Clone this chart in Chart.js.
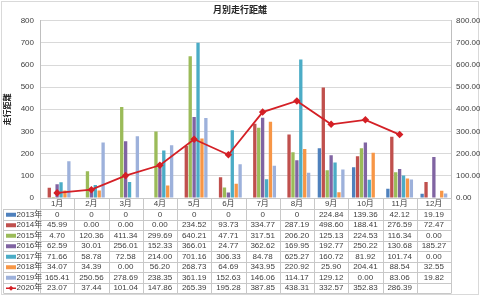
<!DOCTYPE html>
<html>
<head>
<meta charset="utf-8">
<script src="https://cdn.jsdelivr.net/npm/chart.js@4.4.1/dist/chart.umd.min.js"></script>
<style>
  html, body { margin: 0; padding: 0; background: #fff; }
  #wrap { width: 480px; height: 296px; position: relative; }
  .axlab { position: absolute; font: 8px 'Liberation Sans', sans-serif; color: #404040; line-height: 10px; height: 10px; white-space: nowrap; }
</style>
</head>
<body>
<div id="wrap"><canvas id="distChart" width="480" height="296"></canvas></div>
<script>
const months = ['1月','2月','3月','4月','5月','6月','7月','8月','9月','10月','11月','12月'];
const yearLabels = ['2013年','2014年','2015年','2016年','2017年','2018年','2019年'];
const lineLabel = '2020年';

const y2013 = [0,0,0,0,0,0,0,0,224.84,139.36,42.12,19.19];
const y2014 = [45.99,0.00,0.00,0.00,234.52,93.73,334.77,287.19,498.60,188.41,276.59,72.47];
const y2015 = [4.70,120.36,411.34,299.69,640.21,47.71,317.51,206.20,125.13,224.53,116.34,0.00];
const y2016 = [62.59,30.01,256.01,152.33,366.01,24.77,362.62,169.95,192.77,250.22,130.68,185.27];
const y2017 = [71.66,58.78,72.58,214.00,701.16,306.33,84.78,625.27,160.72,81.92,101.74,0.00];
const y2018 = [34.07,34.39,0.00,56.20,268.73,64.69,343.95,220.92,25.90,204.41,88.54,32.55];
const y2019 = [165.41,250.56,278.69,238.35,361.19,152.63,146.06,114.17,129.12,0.00,83.06,19.82];
const y2020 = [23.07,37.44,101.04,147.86,265.39,195.28,387.85,438.31,332.57,352.83,286.39,null];

const axisMin = 0, axisMax = 800, axisStep = 100;

const barSeries = [y2013,y2014,y2015,y2016,y2017,y2018,y2019];
const barColors = ['#4F81BD','#C0504D','#9BBB59','#8064A2','#4BACC6','#F79646','#9DB1DB'];
const lineColor = '#D42026';

const textColor = '#404040';
const tableLine = '#C8C8C8';
const numFont = "8px 'Liberation Sans', 'Noto Sans CJK JP', sans-serif";

// 2013 row was typed as plain 0 in the sheet
function fmt(v, rowIdx) {
  if (v === null || v === undefined) return '';
  if (rowIdx === 0 && v === 0) return '0';
  return v.toFixed(2);
}

const datasets = [{
  type: 'line',
  label: lineLabel,
  data: y2020,
  yAxisID: 'y2',
  borderColor: lineColor,
  backgroundColor: lineColor,
  borderWidth: 1.8,
  pointStyle: 'rectRot',
  pointRadius: 2.5,
  tension: 0,
  order: 0
}];
barSeries.forEach((d, i) => {
  datasets.push({
    type: 'bar',
    label: yearLabels[i],
    data: d,
    yAxisID: 'y',
    backgroundColor: barColors[i],
    categoryPercentage: 0.8,
    barPercentage: 0.85,
    order: 1
  });
});

const TOP_ROW = 11;
const ROW_H = 10.5;

const tablePlugin = {
  id: 'dataTable',
  beforeDraw(chart) {
    const ctx = chart.ctx;
    ctx.save();
    ctx.fillStyle = '#fff';
    ctx.fillRect(0, 0, chart.width, chart.height);
    ctx.strokeStyle = '#D9D9D9';
    ctx.lineWidth = 1;
    ctx.strokeRect(1.5, 1.5, chart.width - 3, chart.height - 3);
    ctx.restore();
  },
  afterDraw(chart) {
    const ctx = chart.ctx;
    const xs = chart.scales.x;
    const area = chart.chartArea;
    const colW = (area.right - area.left) / months.length;
    const top = area.bottom;
    const rowsTop = top + TOP_ROW;
    const nRows = barSeries.length + 1;
    const bottom = rowsTop + nRows * ROW_H;
    const leftEdge = 3.5;

    ctx.save();
    ctx.strokeStyle = tableLine;
    ctx.lineWidth = 1;
    ctx.beginPath();
    for (let i = 0; i <= months.length; i++) {
      const x = Math.round(xs.getPixelForValue(i) - colW / 2) + 0.5;
      ctx.moveTo(x, top);
      ctx.lineTo(x, bottom);
    }
    ctx.moveTo(leftEdge, rowsTop);
    ctx.lineTo(leftEdge, bottom);
    for (let r = 0; r <= nRows; r++) {
      const y = Math.round(rowsTop + r * ROW_H) + 0.5;
      ctx.moveTo(leftEdge, y);
      ctx.lineTo(area.right + 0.5, y);
    }
    ctx.stroke();

    ctx.font = numFont;
    ctx.textBaseline = 'middle';
    const allRows = barSeries.concat([y2020]);
    const allLabels = yearLabels.concat([lineLabel]);
    allRows.forEach((row, r) => {
      const cy = rowsTop + r * ROW_H + ROW_H / 2 + 0.5;
      if (r < barSeries.length) {
        ctx.fillStyle = barColors[r];
        ctx.fillRect(6, cy - 2, 10, 4);
      } else {
        ctx.strokeStyle = lineColor;
        ctx.lineWidth = 1.5;
        ctx.beginPath();
        ctx.moveTo(6, cy);
        ctx.lineTo(16, cy);
        ctx.stroke();
        ctx.fillStyle = lineColor;
        ctx.beginPath();
        ctx.moveTo(11, cy - 2.5);
        ctx.lineTo(13.5, cy);
        ctx.lineTo(11, cy + 2.5);
        ctx.lineTo(8.5, cy);
        ctx.closePath();
        ctx.fill();
      }
      ctx.fillStyle = textColor;
      ctx.textAlign = 'left';
      ctx.fillText(allLabels[r], 16.5, cy);
      ctx.textAlign = 'center';
      row.forEach((v, i) => {
        ctx.fillText(fmt(v, r), xs.getPixelForValue(i), cy);
      });
    });
    ctx.restore();
  }
};

const chart = new Chart(document.getElementById('distChart'), {
  type: 'bar',
  data: { labels: months, datasets: datasets },
  options: {
    responsive: false,
    animation: false,
    layout: { padding: 0 },
    plugins: {
      legend: { display: false },
      tooltip: { enabled: false },
      title: {
        display: true,
        text: '月別走行距離',
        color: '#262626',
        font: { family: "'Noto Sans CJK JP', sans-serif", size: 9, weight: 'bold' },
        padding: { top: 4, bottom: 6 }
      }
    },
    scales: {
      x: {
        type: 'category',
        grid: { display: false, drawTicks: false, tickLength: 0 },
        border: { display: true, color: tableLine },
        ticks: {
          color: textColor,
          padding: 1,
          maxRotation: 0,
          autoSkip: false,
          font: { family: "'Liberation Sans', 'Noto Sans CJK JP', sans-serif", size: 8 }
        },
        afterFit(scale) { scale.height = 98; }
      },
      y: {
        type: 'linear',
        position: 'left',
        min: axisMin,
        max: axisMax,
        grid: { color: '#D9D9D9', drawTicks: false, tickLength: 0 },
        border: { display: true, color: '#BFBFBF' },
        ticks: { stepSize: axisStep, display: false },
        title: {
          display: true,
          text: '走行距離',
          color: '#262626',
          padding: { top: 2, bottom: 0 },
          font: { family: "'Noto Sans CJK JP', sans-serif", size: 8, weight: 'bold' }
        },
        afterFit(scale) { scale.width = 40; }
      },
      y2: {
        type: 'linear',
        position: 'right',
        min: axisMin,
        max: axisMax,
        grid: { display: false, drawTicks: false, tickLength: 0 },
        border: { display: true, color: '#BFBFBF' },
        ticks: { stepSize: axisStep, display: false },
        afterFit(scale) { scale.width = 29; }
      }
    }
  },
  plugins: [tablePlugin]
});

// value axis labels as text placed from the chart's own scales
const wrap = document.getElementById('wrap');
const area = chart.chartArea;
const yl = chart.scales.y, yr = chart.scales.y2;
yl.ticks.forEach(t => {
  const el = document.createElement('div');
  el.className = 'axlab';
  el.textContent = String(t.value);
  el.style.right = (480 - (area.left - 6)) + 'px';
  el.style.top = (yl.getPixelForValue(t.value) - 5) + 'px';
  el.style.textAlign = 'right';
  wrap.appendChild(el);
});
yr.ticks.forEach(t => {
  const el = document.createElement('div');
  el.className = 'axlab';
  el.textContent = t.value.toFixed(2);
  el.style.left = (area.right + 5) + 'px';
  el.style.top = (yr.getPixelForValue(t.value) - 5) + 'px';
  wrap.appendChild(el);
});
</script>
</body>
</html>
